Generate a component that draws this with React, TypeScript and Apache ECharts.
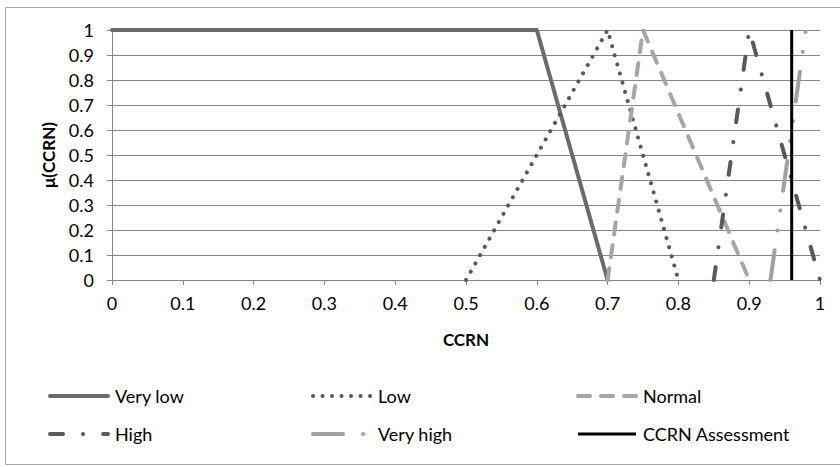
import React, { useEffect, useRef } from 'react';
import * as echarts from 'echarts';

// ---- data ----
const seriesNames = ['Very low', 'Low', 'Normal', 'High', 'Very high', 'CCRN Assessment'];
const veryLow: number[][] = [[0, 1], [0.6, 1], [0.7, 0]];
const low: number[][] = [[0.5, 0], [0.7, 1], [0.8, 0]];
const normal: number[][] = [[0.7, 0], [0.75, 1], [0.9, 0]];
const high: number[][] = [[0.85, 0], [0.9, 1], [1, 0]];
const veryHigh: number[][] = [[0.93, 0], [0.98, 1], [1, 1]];
const assessment: number[][] = [[0.96, 0], [0.96, 1]];
const xAxisRange = [0, 1];
const yAxisRange = [0, 1];
const tickStep = 0.1;

const FONT = 'Lato, "Noto Sans", sans-serif';

// styles per series
const styles = [
  { color: '#6b6b6b', width: 4, dash: 'solid' as any },
  { color: '#595959', width: 4, dash: [0.1, 9.4] },
  { color: '#a6a6a6', width: 4, dash: [12, 11] },
  { color: '#595959', width: 4, dash: [13, 20, 0.1, 20] },
  { color: '#a0a0a0', width: 4, dash: [30, 20, 0.1, 20, 0.1, 20] },
  { color: '#000000', width: 3, dash: 'solid' as any },
];

const App: React.FC = () => {
  const ref = useRef<HTMLDivElement>(null);

  useEffect(() => {
    if (!ref.current) return;
    const chart = echarts.init(ref.current, undefined, { renderer: 'svg' });
    const datasets = [veryLow, low, normal, high, veryHigh, assessment];

    const series = datasets.map((d, i) => ({
      name: seriesNames[i],
      type: 'line',
      data: d,
      symbol: 'none',
      clip: false,
      lineStyle: {
        color: styles[i].color,
        width: styles[i].width,
        type: styles[i].dash,
        cap: i === 5 ? 'butt' : 'round',
        join: 'round',
      },
      z: 2 + i,
    }));

    // legend drawn as graphic (3 columns x 2 rows)
    const colX = [50, 313, 578];
    const rowY = [396, 434];
    const legendGraphics: any[] = [];
    seriesNames.forEach((name, i) => {
      const col = i % 3;
      const row = Math.floor(i / 3);
      const x = colX[col];
      const y = rowY[row];
      const st = styles[i];
      legendGraphics.push({
        type: 'line',
        silent: true,
        shape: { x1: x, y1: y, x2: x + 58, y2: y },
        style: {
          stroke: st.color,
          lineWidth: st.width,
          lineDash: Array.isArray(st.dash) ? st.dash : null,
          lineCap: i === 5 ? 'butt' : 'round',
        },
      });
      legendGraphics.push({
        type: 'text',
        silent: true,
        x: x + 65,
        y: y,
        style: {
          text: name,
          fontFamily: FONT,
          fontSize: 18,
          fill: '#000',
          verticalAlign: 'middle',
          align: 'left',
        },
      });
    });

    const axisCommon = {
      type: 'value',
      interval: tickStep,
      axisLine: { show: true, lineStyle: { color: '#868686', width: 1 } },
      axisTick: { show: true, length: 5, inside: false, lineStyle: { color: '#868686' } },
      nameLocation: 'middle',
      nameTextStyle: { fontFamily: FONT, fontSize: 17, fontWeight: 'bold', color: '#000' },
    };

    chart.setOption({
      animation: false,
      backgroundColor: '#ffffff',
      grid: { left: 112, top: 30, right: 20, bottom: 187, containLabel: false },
      xAxis: {
        ...axisCommon,
        min: xAxisRange[0],
        max: xAxisRange[1],
        name: 'CCRN',
        nameGap: 51,
        axisLabel: {
          margin: 14,
          fontFamily: FONT,
          fontSize: 18,
          color: '#000',
          formatter: (v: number) => String(+v.toFixed(1)),
        },
        splitLine: { show: false },
      },
      yAxis: {
        ...axisCommon,
        min: yAxisRange[0],
        max: yAxisRange[1],
        name: 'μ(CCRN)',
        nameGap: 55,
        axisLabel: {
          margin: 18,
          fontFamily: FONT,
          fontSize: 18,
          color: '#000',
          formatter: (v: number) => String(+v.toFixed(1)),
        },
        splitLine: { show: true, lineStyle: { color: '#868686', width: 1 } },
      },
      series,
      graphic: [
        {
          type: 'rect',
          silent: true,
          z: -10,
          shape: { x: 5.5, y: 7.5, width: 840, height: 457 },
          style: { fill: 'none', stroke: '#a6a6a6', lineWidth: 1 },
        },
        ...legendGraphics,
      ],
    });

    return () => {
      chart.dispose();
    };
  }, []);

  return (
    <div
      ref={ref}
      style={{ position: 'fixed', left: 0, top: 0, width: 840, height: 467, background: '#fff' }}
    />
  );
};

export default App;
